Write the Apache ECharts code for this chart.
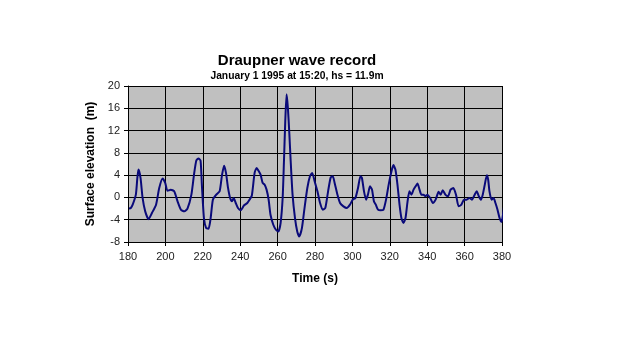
<!DOCTYPE html>
<html>
<head>
<meta charset="utf-8">
<script src="https://cdn.jsdelivr.net/npm/echarts@6/dist/echarts.min.js"></script>
<style>
html,body{margin:0;padding:0;background:#fff;}
#c{width:636px;height:358px;}
</style>
</head>
<body>
<div id="c"></div>
<script>
var titleText = "Draupner wave record";
var subtitleText = "January 1 1995 at 15:20, hs = 11.9m";
var xName = "Time (s)";
var yName = "Surface elevation  (m)";
var xTicks = [180, 200, 220, 240, 260, 280, 300, 320, 340, 360, 380];
var yTicks = [-8, -4, 0, 4, 8, 12, 16, 20];

var times = [
180.5,181.5,182.5,184.2,185.0,185.6,186.7,187.8,189.2,191.0,192.8,195.0,196.7,198.5,199.9,
201.1,202.9,204.7,206.5,208.3,210.1,211.8,213.9,215.3,216.5,217.7,218.8,219.5,220.6,221.8,
223.1,224.2,225.4,227.2,229.0,230.3,231.4,232.4,233.5,234.6,235.6,236.5,237.6,238.8,240.3,
242.1,243.8,244.8,246.2,247.7,248.8,249.8,250.9,252.0,253.0,254.1,255.2,256.2,257.7,259.1,
260.4,261.6,262.7,263.4,264.1,264.8,265.5,266.3,267.0,268.0,269.3,270.5,271.6,273.0,274.4,
275.9,277.3,278.5,279.8,281.3,282.7,284.1,285.5,287.0,288.4,289.5,290.5,292.0,293.4,295.2,
297.0,298.7,300.2,301.6,303.0,304.3,305.1,306.2,307.3,308.3,309.4,310.5,311.5,312.5,313.7,
315.1,316.6,318.0,319.4,320.9,321.9,323.0,324.1,325.2,326.2,327.3,328.4,329.5,330.5,331.6,
332.7,333.8,334.8,335.9,336.9,338.0,339.1,340.1,341.6,343.0,344.5,346.1,347.2,348.3,349.7,
351.1,352.5,354.0,355.4,356.8,358.3,359.7,361.1,362.6,364.0,365.4,366.5,367.6,368.7,369.7,
370.8,371.9,372.6,373.3,374.4,375.5,376.5,377.6,378.7,379.7,380.4,381.2
];
var elevation = [
-2.0,-1.9,-1.3,0.5,3.5,5.0,3.5,-0.1,-2.5,-3.9,-2.8,-1.3,1.7,3.4,2.6,
1.2,1.4,1.1,-0.7,-2.2,-2.5,-2.0,0.5,4.1,6.6,7.0,6.6,2.3,-3.7,-5.5,
-5.6,-3.7,-0.4,0.5,1.1,4.1,5.7,4.4,1.7,-0.1,-0.7,-0.1,-1.0,-1.9,-2.3,
-1.4,-1.0,-0.5,0.3,4.4,5.3,4.8,4.1,2.6,2.3,1.4,-0.4,-3.1,-4.9,-5.8,
-6.1,-4.6,-0.1,6.5,13.7,18.5,16.1,11.3,6.5,0.5,-3.7,-6.1,-7.0,-5.5,-1.9,
1.7,3.8,4.4,2.9,1.1,-1.0,-2.2,-1.9,1.1,3.6,3.8,2.6,0.5,-1.0,-1.6,
-1.9,-1.3,-0.4,-0.1,1.7,3.8,3.5,1.1,-0.4,0.5,2.0,1.4,-0.7,-1.3,-2.2,
-2.3,-2.2,-0.4,2.3,4.7,5.8,5.0,2.3,-1.3,-3.7,-4.6,-3.7,-0.7,1.1,0.5,
1.4,2.0,2.5,1.4,0.5,0.5,0.2,0.5,-0.1,-1.0,-0.4,1.0,0.5,1.3,0.5,
0.2,1.4,1.7,0.5,-1.6,-1.3,-0.4,-0.4,-0.1,-0.4,0.5,1.1,0.2,-0.4,0.5,
2.3,4.0,3.2,1.1,-0.4,-0.1,-1.0,-2.2,-3.7,-4.4,-3.4,-1.3
];

var pts = times.map(function(t, i){ return [t, elevation[i]]; });
var font = "Liberation Sans, Arial, sans-serif";

var chart = echarts.init(document.getElementById('c'));
chart.setOption({
  animation: false,
  backgroundColor: '#ffffff',
  title: [
    {text: titleText, left: 292, top: 48, textAlign: 'center',
     textStyle: {fontFamily: font, fontSize: 15, fontWeight: 'bold', color: '#000'}},
    {text: subtitleText, left: 292, top: 66, textAlign: 'center',
     textStyle: {fontFamily: font, fontSize: 10.3, fontWeight: 'bold', color: '#000'}}
  ],
  grid: {left: 128, right: 134, top: 86, bottom: 116, show: true,
         backgroundColor: '#c0c0c0', borderColor: '#000', borderWidth: 0},
  xAxis: {
    type: 'value', min: 180, max: 380, interval: 20,
    name: xName, nameLocation: 'middle', nameGap: 31,
    nameTextStyle: {fontFamily: font, fontSize: 12, fontWeight: 'bold', color: '#000'},
    axisLine: {show: true, onZero: false, lineStyle: {color: '#000', width: 1}},
    axisTick: {show: true, inside: false, length: 4, lineStyle: {color: '#000'}},
    axisLabel: {fontFamily: font, fontSize: 11, color: '#222', margin: 9},
    splitLine: {show: true, lineStyle: {color: '#000', width: 1}}
  },
  yAxis: {
    type: 'value', min: -8, max: 20, interval: 4,
    name: yName, nameLocation: 'middle', nameGap: 27, nameRotate: 90,
    nameTextStyle: {fontFamily: font, fontSize: 12, fontWeight: 'bold', color: '#000'},
    axisLine: {show: true, onZero: false, lineStyle: {color: '#000', width: 1}},
    axisTick: {show: true, inside: false, length: 4, lineStyle: {color: '#000'}},
    axisLabel: {fontFamily: font, fontSize: 11, color: '#222', margin: 8},
    splitLine: {show: true, lineStyle: {color: '#000', width: 1}}
  },
  series: [{
    type: 'line', data: pts, showSymbol: false, smooth: 0.2, clip: false,
    lineStyle: {color: '#0a0a7a', width: 2}
  }]
});
</script>
</body>
</html>
